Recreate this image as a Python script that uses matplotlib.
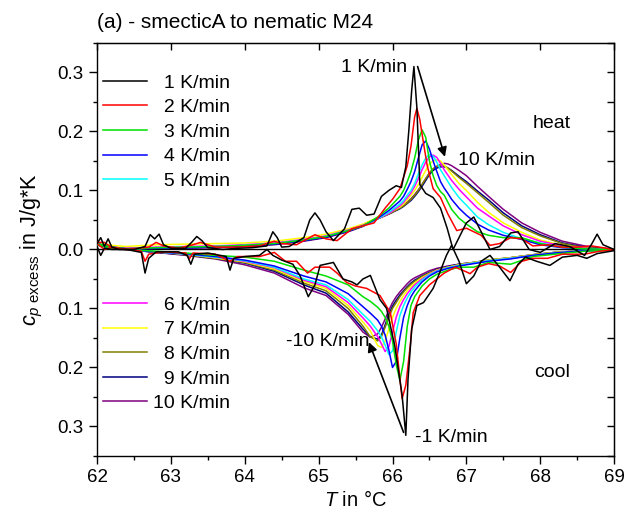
import matplotlib
matplotlib.use("Agg")
import matplotlib.pyplot as plt
from matplotlib.ticker import MultipleLocator, FuncFormatter

plt.rcParams["font.family"] = ["Liberation Sans", "DejaVu Sans"]
plt.rcParams["mathtext.fontset"] = "custom"
plt.rcParams["mathtext.rm"] = "Liberation Sans"
plt.rcParams["mathtext.it"] = "Liberation Sans:italic"

rates = [1, 2, 3, 4, 5, 6, 7, 8, 9, 10]
colors = ["#000000", "#ff0000", "#00e000", "#0000ff", "#00ffff",
          "#ff00ff", "#ffff00", "#808000", "#000080", "#800080"]

# ---- heating, 1 K/min (noisy)
t_heat_1 = [62.0, 62.05, 62.1, 62.15, 62.2, 62.3, 62.5, 62.65, 62.72, 62.78, 62.84, 62.9, 63.0, 63.2,
            63.28, 63.35, 63.42, 63.5, 63.7, 63.9, 64.1, 64.3, 64.38, 64.44, 64.5, 64.6, 64.8, 64.88,
            64.95, 65.02, 65.1, 65.2, 65.35, 65.45, 65.55, 65.65, 65.75, 65.85, 65.95, 66.05, 66.12,
            66.18, 66.22, 66.26, 66.29, 66.33, 66.37, 66.45, 66.55, 66.65, 66.74, 66.82, 66.9, 67.0,
            67.1, 67.2, 67.32, 67.45, 67.6, 67.7, 67.85, 68.0, 68.2, 68.4, 68.6, 68.7, 68.77, 68.85, 69.0]
heat_1 = [0.01, 0.02, 0.005, 0.018, 0.004, 0.0, 0.0, 0.005, 0.025, 0.018, 0.026, 0.008, 0.002, 0.002,
          0.012, 0.022, 0.015, 0.003, 0.0, 0.002, 0.003, 0.006, 0.03, 0.02, 0.004, 0.005, 0.02, 0.05,
          0.062, 0.05, 0.03, 0.015, 0.035, 0.068, 0.07, 0.058, 0.06, 0.09, 0.1, 0.108, 0.105,
          0.14, 0.2, 0.27, 0.31, 0.24, 0.11, 0.095, 0.088, 0.07, 0.036, 0.0, 0.02, 0.045,
          0.055, 0.03, 0.0, 0.005, 0.028, 0.03, 0.0, -0.005, 0.01, 0.005, -0.01, 0.01, 0.026, 0.008, 0.0]

# ---- heating, 2 K/min
t_heat_2 = [62.0, 62.1, 62.2, 62.4, 62.7, 62.8, 62.9, 63.1, 63.3, 63.4, 63.6, 63.9, 64.2, 64.4, 64.5,
            64.7, 64.95, 65.1, 65.25, 65.45, 65.6, 65.75, 65.9, 66.0, 66.1, 66.2, 66.25, 66.3, 66.33,
            66.37, 66.42, 66.47, 66.55, 66.65, 66.75, 66.87, 67.0, 67.1, 67.2, 67.32, 67.45, 67.6,
            67.75, 67.9, 68.1, 68.3, 68.5, 68.7, 69.0]
heat_2 = [0.012, 0.012, 0.003, 0.0, 0.004, 0.012, 0.006, 0.002, 0.008, 0.012, 0.004, 0.004, 0.006,
          0.014, 0.01, 0.008, 0.025, 0.018, 0.015, 0.035, 0.04, 0.045, 0.07, 0.085, 0.103, 0.142,
          0.175, 0.225, 0.239, 0.22, 0.18, 0.142, 0.103, 0.088, 0.06, 0.032, 0.036, 0.03, 0.024,
          0.007, 0.01, 0.02, 0.018, 0.006, 0.008, 0.004, 0.004, 0.006, 0.0]

# ---- heating, 3..10 K/min (shared temperature grid)
t_heat = [62.0, 62.2, 62.4, 62.8, 63.2, 63.6, 64.0, 64.4, 64.8, 65.1, 65.4, 65.6, 65.8, 65.95, 66.1,
          66.15, 66.2, 66.25, 66.3, 66.35, 66.4, 66.45, 66.5, 66.55, 66.6, 66.65, 66.7, 66.75, 66.8,
          66.9, 67.0, 67.15, 67.3, 67.5, 67.75, 68.0, 68.3, 68.6, 69.0]
heat_3 = [0.01, 0.004, 0.001, 0.003, 0.004, 0.005, 0.007, 0.01, 0.016, 0.022, 0.032, 0.04, 0.055, 0.07,
          0.09, 0.1, 0.115, 0.132, 0.155, 0.185, 0.203, 0.19, 0.15, 0.125, 0.108, 0.098, 0.092, 0.08,
          0.068, 0.053, 0.043, 0.03, 0.024, 0.02, 0.02, 0.01, 0.004, 0.001, 0.0]
heat_4 = [0.01, 0.004, 0.001, 0.002, 0.003, 0.004, 0.006, 0.009, 0.015, 0.021, 0.031, 0.04, 0.053,
          0.066, 0.082, 0.09, 0.102, 0.115, 0.132, 0.155, 0.177, 0.184, 0.17, 0.15, 0.132, 0.115,
          0.104, 0.095, 0.085, 0.07, 0.058, 0.043, 0.033, 0.024, 0.017, 0.008, 0.003, 0.001, -0.001]
heat_5 = [0.01, 0.004, 0.001, 0.003, 0.004, 0.005, 0.007, 0.01, 0.016, 0.022, 0.032, 0.04, 0.052,
          0.063, 0.077, 0.083, 0.092, 0.1, 0.112, 0.128, 0.143, 0.155, 0.161, 0.158, 0.148, 0.135,
          0.125, 0.115, 0.105, 0.088, 0.075, 0.055, 0.042, 0.029, 0.018, 0.011, 0.004, 0.001, -0.001]
heat_6 = [0.01, 0.004, 0.002, 0.004, 0.005, 0.006, 0.008, 0.011, 0.017, 0.023, 0.033, 0.041, 0.052,
          0.061, 0.074, 0.08, 0.088, 0.096, 0.107, 0.12, 0.135, 0.148, 0.157, 0.16, 0.156, 0.146,
          0.135, 0.126, 0.117, 0.102, 0.089, 0.07, 0.057, 0.04, 0.025, 0.014, 0.006, 0.002, -0.001]
heat_7 = [0.012, 0.007, 0.005, 0.008, 0.009, 0.01, 0.011, 0.014, 0.02, 0.026, 0.035, 0.043, 0.054,
          0.062, 0.072, 0.077, 0.084, 0.092, 0.1, 0.11, 0.122, 0.134, 0.145, 0.15, 0.152, 0.15,
          0.143, 0.135, 0.127, 0.112, 0.1, 0.08, 0.063, 0.045, 0.029, 0.016, 0.007, 0.002, 0.0]
heat_8 = [0.01, 0.004, 0.002, 0.003, 0.004, 0.005, 0.007, 0.01, 0.016, 0.022, 0.032, 0.04, 0.052,
          0.06, 0.07, 0.074, 0.079, 0.085, 0.092, 0.1, 0.11, 0.12, 0.13, 0.137, 0.141, 0.143, 0.142,
          0.138, 0.133, 0.122, 0.112, 0.096, 0.08, 0.058, 0.037, 0.023, 0.01, 0.003, 0.0]
heat_9 = [0.01, 0.003, 0.001, 0.002, 0.003, 0.004, 0.006, 0.009, 0.015, 0.021, 0.031, 0.04, 0.052,
          0.06, 0.069, 0.073, 0.078, 0.083, 0.09, 0.098, 0.107, 0.117, 0.127, 0.134, 0.138, 0.14,
          0.14, 0.138, 0.134, 0.124, 0.115, 0.099, 0.084, 0.062, 0.04, 0.025, 0.011, 0.004, 0.0]
heat_10 = [0.01, 0.003, 0.001, 0.002, 0.002, 0.003, 0.005, 0.008, 0.014, 0.02, 0.03, 0.039, 0.053,
           0.062, 0.071, 0.075, 0.08, 0.086, 0.093, 0.101, 0.11, 0.12, 0.129, 0.136, 0.141, 0.144,
           0.146, 0.145, 0.142, 0.134, 0.125, 0.107, 0.09, 0.068, 0.045, 0.029, 0.014, 0.006, 0.0]

# ---- cooling, 1 K/min (noisy)
t_cool_1 = [62.0, 62.05, 62.1, 62.2, 62.4, 62.6, 62.65, 62.7, 62.8, 63.1, 63.22, 63.27, 63.32, 63.5,
            63.75, 63.8, 63.85, 64.0, 64.2, 64.3, 64.38, 64.5, 64.65, 64.75, 64.86, 64.95, 65.02,
            65.2, 65.33, 65.45, 65.52, 65.6, 65.7, 65.83, 65.92, 66.03, 66.13, 66.18, 66.21, 66.26,
            66.33, 66.42, 66.55, 66.64, 66.73, 66.8, 66.9, 67.0, 67.1, 67.2, 67.32, 67.45, 67.59,
            67.7, 67.8, 67.95, 68.13, 68.3, 68.5, 68.63, 68.77, 69.0]
cool_1 = [0.005, -0.01, 0.002, 0.0, 0.0, -0.005, -0.04, -0.015, -0.004, -0.004, -0.01, -0.025,
          -0.008, -0.006, -0.012, -0.035, -0.015, -0.012, -0.01, 0.0, -0.01, -0.018, -0.025, -0.045,
          -0.08, -0.06, -0.027, -0.022, -0.05, -0.055, -0.06, -0.05, -0.044, -0.085, -0.1, -0.163,
          -0.247, -0.315, -0.22, -0.135, -0.095, -0.09, -0.066, -0.039, -0.01, 0.007, -0.02, -0.058,
          -0.045, -0.02, -0.01, -0.03, -0.053, -0.025, -0.013, -0.02, -0.027, -0.013, -0.01, -0.015,
          -0.007, -0.002]

# ---- cooling, 2 K/min
t_cool_2 = [62.0, 62.1, 62.2, 62.4, 62.6, 62.65, 62.7, 62.9, 63.2, 63.25, 63.3, 63.6, 63.8, 63.9,
            64.2, 64.4, 64.55, 64.7, 64.85, 64.95, 65.15, 65.25, 65.38, 65.5, 65.65, 65.83, 65.97,
            66.05, 66.13, 66.18, 66.24, 66.28, 66.37, 66.5, 66.6, 66.7, 66.85, 67.0, 67.05, 67.15,
            67.3, 67.45, 67.6, 67.75, 67.9, 68.1, 68.3, 68.6, 68.8, 69.0]
cool_2 = [0.01, 0.0, 0.004, 0.0, -0.003, -0.02, -0.008, -0.004, -0.006, -0.016, -0.006, -0.008,
          -0.02, -0.012, -0.012, -0.005, -0.02, -0.02, -0.04, -0.03, -0.03, -0.04, -0.056, -0.062,
          -0.066, -0.078, -0.107, -0.16, -0.253, -0.23, -0.163, -0.107, -0.078, -0.06, -0.05, -0.04,
          -0.03, -0.038, -0.041, -0.03, -0.024, -0.028, -0.039, -0.02, -0.015, -0.015, -0.008,
          -0.008, -0.003, -0.001]

# ---- cooling, 3..10 K/min (shared temperature grid)
t_cool = [62.0, 62.2, 62.4, 62.8, 63.2, 63.6, 64.0, 64.4, 64.8, 65.1, 65.4, 65.6, 65.7, 65.8, 65.85,
          65.9, 65.95, 66.0, 66.05, 66.1, 66.15, 66.2, 66.25, 66.3, 66.4, 66.5, 66.6, 66.75, 66.9,
          67.1, 67.3, 67.6, 67.9, 68.2, 68.6, 69.0]
cool_3 = [0.008, 0.002, 0.0, -0.003, -0.006, -0.01, -0.013, -0.02, -0.035, -0.045, -0.06, -0.08,
          -0.088, -0.098, -0.105, -0.115, -0.13, -0.155, -0.195, -0.222, -0.19, -0.13, -0.095, -0.08,
          -0.062, -0.05, -0.042, -0.035, -0.03, -0.03, -0.022, -0.025, -0.012, -0.008, -0.003, -0.001]
cool_4 = [0.008, 0.002, 0.0, -0.004, -0.007, -0.012, -0.018, -0.028, -0.045, -0.055, -0.075,
          -0.097, -0.108, -0.12, -0.13, -0.145, -0.17, -0.2, -0.19, -0.15, -0.115, -0.095, -0.08,
          -0.07, -0.055, -0.045, -0.038, -0.032, -0.028, -0.024, -0.02, -0.016, -0.01, -0.006,
          -0.002, -0.001]
cool_5 = [0.008, 0.002, 0.0, -0.004, -0.008, -0.013, -0.019, -0.03, -0.05, -0.06, -0.085, -0.11,
          -0.122, -0.138, -0.148, -0.162, -0.178, -0.172, -0.14, -0.112, -0.095, -0.082, -0.072,
          -0.064, -0.052, -0.043, -0.037, -0.031, -0.027, -0.023, -0.019, -0.015, -0.01, -0.006,
          -0.002, -0.001]
cool_6 = [0.008, 0.002, 0.0, -0.004, -0.008, -0.013, -0.02, -0.031, -0.052, -0.063, -0.09, -0.116,
          -0.13, -0.148, -0.16, -0.173, -0.165, -0.14, -0.115, -0.097, -0.085, -0.075, -0.067, -0.06,
          -0.05, -0.042, -0.036, -0.031, -0.027, -0.023, -0.019, -0.015, -0.01, -0.006, -0.002,
          -0.001]
cool_7 = [0.008, 0.002, 0.0, -0.004, -0.008, -0.014, -0.021, -0.033, -0.054, -0.066, -0.095,
          -0.123, -0.138, -0.163, -0.166, -0.155, -0.135, -0.115, -0.1, -0.088, -0.078, -0.07,
          -0.063, -0.057, -0.048, -0.041, -0.035, -0.03, -0.026, -0.022, -0.018, -0.014, -0.009,
          -0.005, -0.002, 0.0]
cool_8 = [0.008, 0.002, 0.0, -0.004, -0.009, -0.015, -0.022, -0.035, -0.057, -0.07, -0.1, -0.13,
          -0.148, -0.155, -0.148, -0.132, -0.115, -0.1, -0.09, -0.08, -0.072, -0.065, -0.059, -0.054,
          -0.046, -0.04, -0.035, -0.03, -0.026, -0.022, -0.018, -0.014, -0.009, -0.005, -0.002, 0.0]
cool_9 = [0.008, 0.002, 0.0, -0.005, -0.009, -0.015, -0.023, -0.037, -0.06, -0.074, -0.106,
          -0.135, -0.148, -0.152, -0.145, -0.128, -0.11, -0.096, -0.086, -0.077, -0.07, -0.063,
          -0.057, -0.052, -0.045, -0.039, -0.034, -0.029, -0.025, -0.022, -0.018, -0.014, -0.009,
          -0.005, -0.002, 0.0]
cool_10 = [0.008, 0.002, 0.0, -0.005, -0.01, -0.016, -0.026, -0.04, -0.065, -0.078, -0.11, -0.14,
           -0.149, -0.143, -0.132, -0.118, -0.103, -0.09, -0.08, -0.072, -0.065, -0.058, -0.052,
           -0.048, -0.042, -0.036, -0.032, -0.028, -0.025, -0.022, -0.019, -0.014, -0.009, -0.005,
           -0.002, 0.0]

heating = [(t_heat_1, heat_1), (t_heat_2, heat_2), (t_heat, heat_3), (t_heat, heat_4),
           (t_heat, heat_5), (t_heat, heat_6), (t_heat, heat_7), (t_heat, heat_8),
           (t_heat, heat_9), (t_heat, heat_10)]
cooling = [(t_cool_1, cool_1), (t_cool_2, cool_2), (t_cool, cool_3), (t_cool, cool_4),
           (t_cool, cool_5), (t_cool, cool_6), (t_cool, cool_7), (t_cool, cool_8),
           (t_cool, cool_9), (t_cool, cool_10)]

fig = plt.figure(figsize=(6.26, 5.15), dpi=100)
ax = fig.add_axes([0.155, 0.1146, 0.826, 0.802])

ax.axhline(0, color="k", lw=1.0, zorder=1)

lines = []
# draw highest rate first so the slow, sharp curves stay on top
for i in reversed(range(len(rates))):
    t, y = cooling[i]
    ax.plot(t, y, color=colors[i], lw=1.1, zorder=2 + (10 - i))
for i in reversed(range(len(rates))):
    t, y = heating[i]
    pad = "\u2007" if rates[i] < 10 else ""
    ln, = ax.plot(t, y, color=colors[i], lw=1.1, zorder=2 + (10 - i),
                  label=f"{pad}{rates[i]} K/min")
    lines.insert(0, ln)

leg_kw = dict(frameon=False, fontsize=14, handlelength=2.27, handletextpad=0.3,
              labelspacing=0.36, borderpad=0, borderaxespad=0, loc="upper left")
leg1 = ax.legend(handles=lines[:5], bbox_to_anchor=(0.011, 0.925), **leg_kw)
ax.add_artist(leg1)
ax.legend(handles=lines[5:], bbox_to_anchor=(0.011, 0.387), **leg_kw)

# annotations
arrow = dict(arrowstyle="-|>", color="k", lw=1.2, mutation_scale=14, shrinkA=0, shrinkB=0)
ax.annotate("", xy=(66.71, 0.157), xytext=(66.34, 0.31), arrowprops=arrow)
ax.annotate("", xy=(65.68, -0.157), xytext=(66.15, -0.31), arrowprops=arrow)
ax.text(66.2, 0.308, "1 K/min", fontsize=14, ha="right", va="center")
ax.text(66.88, 0.151, "10 K/min", fontsize=14, ha="left", va="center")
ax.text(66.3, -0.318, "-1 K/min", fontsize=14, ha="left", va="center")
ax.text(64.56, -0.156, "-10 K/min", fontsize=14, ha="left", va="center")
ax.text(67.9, 0.213, "heat", fontsize=14, ha="left", va="center")
ax.text(67.92, -0.208, "cool", fontsize=14, ha="left", va="center")

ax.set_xlim(62, 69)
ax.set_ylim(-0.35, 0.35)
ax.xaxis.set_major_locator(MultipleLocator(1))
ax.xaxis.set_minor_locator(MultipleLocator(0.5))
ax.yaxis.set_major_locator(MultipleLocator(0.1))
ax.yaxis.set_minor_locator(MultipleLocator(0.05))
ax.yaxis.set_major_formatter(FuncFormatter(lambda v, p: f"{abs(v):.1f}"))
ax.tick_params(which="both", direction="out", labelsize=13.5, width=1.0)
ax.tick_params(which="major", length=6)
ax.tick_params(which="minor", length=3)
for s in ax.spines.values():
    s.set_linewidth(1.0)

top = ax.secondary_xaxis("top")
top.xaxis.set_major_locator(MultipleLocator(1))
top.tick_params(direction="in", length=5, width=1.0, labeltop=False)
right = ax.secondary_yaxis("right")
right.yaxis.set_major_locator(MultipleLocator(0.05))
right.tick_params(direction="in", length=5, width=1.0, labelright=False)

ax.set_xlabel(r"$T$ in °C", fontsize=14.5, labelpad=3)
ax.set_ylabel(r"$c_{p\ \mathrm{excess}}$ in J/g*K", fontsize=15.5, labelpad=9)
ax.set_title("(a) - smecticA to nematic M24", loc="left", fontsize=15, pad=11)

fig.savefig("out.png", dpi=100)
